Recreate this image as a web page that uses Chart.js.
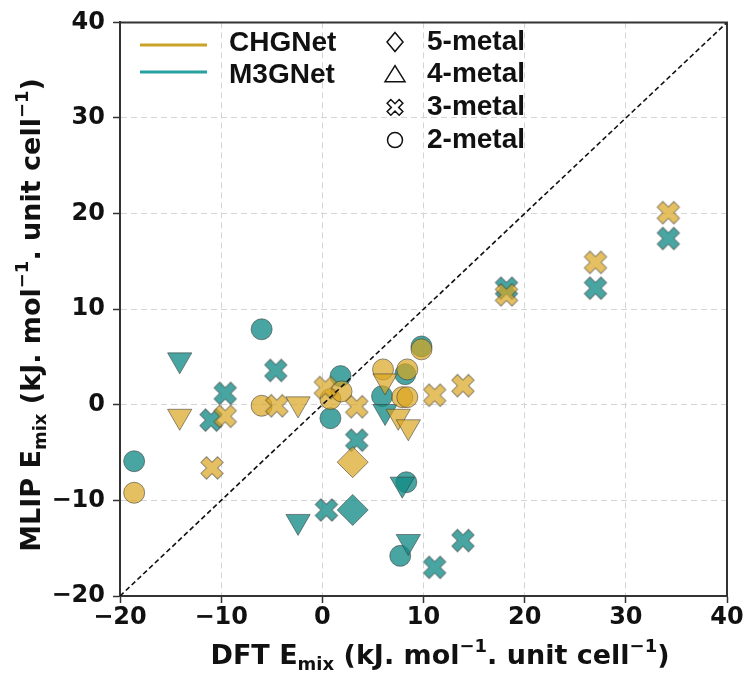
<!DOCTYPE html>
<html>
<head>
    <title>MLIP vs DFT mixing energy</title>
    <script src="https://cdn.jsdelivr.net/npm/chart.js"></script>
    <style>
        html, body { margin: 0; padding: 0; background: #fff; }
    </style>
</head>
<body>
    <canvas id="parityChart" width="750" height="677"></canvas>

    <script>
        // values (kJ/mol per unit cell)
        const axisTicks = [-20, -10, 0, 10, 20, 30, 40];

        // CHGNet
        const chgTwoDft   = [-18.6, -6.0, 0.8, 1.9, 6.0, 8.4, 7.9, 8.4, 9.8];
        const chgTwoMlip  = [-9.2, -0.1, 0.6, 1.4, 3.7, 3.7, 0.8, 0.8, 5.8];
        const chgThreeDft  = [-9.6, -10.9, -4.5, 0.3, 3.4, 11.1, 13.9, 18.2, 27.0, 34.2];
        const chgThreeMlip = [-1.2, -6.6, -0.1, 1.8, -0.2, 1.0, 2.0, 11.5, 14.9, 20.1];
        const chgFourDft  = [-14.1, -2.4, 6.2, 7.5, 8.5];
        const chgFourMlip = [-1.2, 0.1, 2.5, -1.2, -2.3];
        const chgFiveDft  = [3.0];
        const chgFiveMlip = [-6.0];

        // M3GNet
        const m3gTwoDft   = [-18.6, -6.0, 1.8, 0.8, 9.8, 8.2, 5.9, 8.3, 7.7];
        const m3gTwoMlip  = [-5.9, 7.9, 3.0, -1.4, 6.1, 3.2, 0.9, -8.1, -15.8];
        const m3gThreeDft  = [-9.6, -11.0, -4.6, 3.4, 0.4, 11.1, 13.9, 18.2, 27.0, 34.2];
        const m3gThreeMlip = [1.2, -1.6, 3.6, -3.7, -11.0, -17.0, -14.2, 12.2, 12.2, 17.4];
        const m3gFourDft  = [-14.1, -2.4, 6.2, 7.9, 8.5];
        const m3gFourMlip = [4.7, -12.2, -0.7, -8.3, -14.3];
        const m3gFiveDft  = [3.0];
        const m3gFiveMlip = [-11.0];

        const GOLD_FILL = 'rgba(218,165,32,0.7)';
        const TEAL_FILL = 'rgba(20,140,135,0.78)';
        const EDGE = 'rgba(55,55,55,0.55)';
        const GOLD_LINE = '#c9a227';
        const TEAL_LINE = '#27a0a0';

        function toPoints(xs, ys) {
            return xs.map((x, i) => ({ x: x, y: ys[i] }));
        }

        // filled "X" marker like matplotlib's 'X'
        function crossMark(fill) {
            const size = 28;
            const c = document.createElement('canvas');
            c.width = c.height = size;
            const g = c.getContext('2d');
            const L = 11.8, t = 4.0;
            g.translate(size / 2, size / 2);
            g.rotate(Math.PI / 4);
            g.beginPath();
            g.moveTo(-t, -L); g.lineTo(t, -L); g.lineTo(t, -t); g.lineTo(L, -t);
            g.lineTo(L, t); g.lineTo(t, t); g.lineTo(t, L); g.lineTo(-t, L);
            g.lineTo(-t, t); g.lineTo(-L, t); g.lineTo(-L, -t); g.lineTo(-t, -t);
            g.closePath();
            g.fillStyle = fill;
            g.fill();
            g.strokeStyle = EDGE;
            g.lineWidth = 1;
            g.stroke();
            return c;
        }

        function fmtTick(v) {
            return v < 0 ? '\u2212' + Math.abs(v) : String(v);
        }

        function markerSet(label, xs, ys, fill, shape) {
            const ds = {
                type: 'scatter',
                label: label,
                data: toPoints(xs, ys),
                backgroundColor: fill,
                borderColor: EDGE,
                borderWidth: 1
            };
            if (shape === 'circle') { ds.pointStyle = 'circle'; ds.pointRadius = 10.5; }
            if (shape === 'down') { ds.pointStyle = 'triangle'; ds.pointRotation = 180; ds.pointRadius = 14; }
            if (shape === 'diamond') { ds.pointStyle = 'rectRot'; ds.pointRadius = 15.5; }
            if (shape === 'cross') { ds.pointStyle = crossMark(fill); ds.pointRadius = 11; }
            return ds;
        }

        // text with sub/superscripts, drawn centred at (cx, cy)
        function drawRich(ctx, parts, cx, cy, size, rotate) {
            const fam = '"DejaVu Sans", sans-serif';
            const small = Math.round(size * 0.68);
            let total = 0;
            parts.forEach(p => {
                ctx.font = 'bold ' + (p.sub || p.sup ? small : size) + 'px ' + fam;
                p.w = ctx.measureText(p.t).width;
                total += p.w;
            });
            ctx.save();
            ctx.translate(cx, cy);
            if (rotate) ctx.rotate(-Math.PI / 2);
            ctx.fillStyle = '#111';
            ctx.textBaseline = 'alphabetic';
            let x = -total / 2;
            const base = size * 0.36;
            parts.forEach(p => {
                ctx.font = 'bold ' + (p.sub || p.sup ? small : size) + 'px ' + fam;
                let y = base;
                if (p.sub) y = base + size * 0.25;
                if (p.sup) y = base - size * 0.42;
                ctx.fillText(p.t, x, y);
                x += p.w;
            });
            ctx.restore();
        }

        const titleParts = (lead) => [
            { t: lead + ' E' }, { t: 'mix', sub: true }, { t: ' (kJ. mol' }, { t: '\u22121', sup: true },
            { t: '. unit cell' }, { t: '\u22121', sup: true }, { t: ')' }
        ];

        const modelKeys = [
            { name: 'CHGNet', color: GOLD_LINE, lineY: 45, textY: 43 },
            { name: 'M3GNet', color: TEAL_LINE, lineY: 72, textY: 75 }
        ];
        const shapeKeys = ['5-metal', '4-metal', '3-metal', '2-metal'];

        const decorPlugin = {
            id: 'decor',
            afterDraw(chart) {
                const ctx = chart.ctx;
                const a = chart.chartArea;

                // top and right spines
                ctx.save();
                ctx.strokeStyle = '#333';
                ctx.lineWidth = 2;
                ctx.beginPath();
                ctx.moveTo(a.left, a.top);
                ctx.lineTo(a.right, a.top);
                ctx.lineTo(a.right, a.bottom);
                ctx.stroke();
                ctx.restore();

                drawRich(ctx, titleParts('DFT'), 440, 654, 27, false);
                drawRich(ctx, titleParts('MLIP'), 30, 315, 27, true);

                // legend: models
                ctx.save();
                ctx.font = 'bold 28px "Liberation Sans", Arial, sans-serif';
                ctx.textBaseline = 'middle';
                ctx.fillStyle = '#111';
                modelKeys.forEach(m => {
                    ctx.strokeStyle = m.color;
                    ctx.lineWidth = 3;
                    ctx.beginPath();
                    ctx.moveTo(140, m.lineY);
                    ctx.lineTo(207, m.lineY);
                    ctx.stroke();
                    ctx.fillText(m.name, 229, m.textY);
                });

                // legend: metal count shapes
                shapeKeys.forEach((s, i) => {
                    const y = 42 + i * 32.7;
                    const x = 395;
                    ctx.strokeStyle = '#111';
                    ctx.lineWidth = 1.5;
                    ctx.fillStyle = '#fff';
                    ctx.beginPath();
                    if (i === 0) {
                        ctx.moveTo(x, y - 9.5); ctx.lineTo(x + 8, y); ctx.lineTo(x, y + 9.5); ctx.lineTo(x - 8, y);
                        ctx.closePath();
                    } else if (i === 1) {
                        ctx.moveTo(x, y - 9); ctx.lineTo(x + 10, y + 7); ctx.lineTo(x - 10, y + 7);
                        ctx.closePath();
                    } else if (i === 2) {
                        const L = 8.5, t = 2.6;
                        const pts = [[-t, -L], [t, -L], [t, -t], [L, -t], [L, t], [t, t], [t, L], [-t, L], [-t, t], [-L, t], [-L, -t], [-t, -t]];
                        const c = Math.SQRT1_2;
                        pts.forEach((p, k) => {
                            const px = x + (p[0] - p[1]) * c, py = y + (p[0] + p[1]) * c;
                            if (k === 0) ctx.moveTo(px, py); else ctx.lineTo(px, py);
                        });
                        ctx.closePath();
                    } else {
                        ctx.arc(x, y, 7.5, 0, Math.PI * 2);
                    }
                    ctx.fill();
                    ctx.stroke();
                    ctx.fillStyle = '#111';
                    ctx.fillText(s, 427, y);
                });
                ctx.restore();
            }
        };

        const datasets = [
            {
                type: 'line',
                label: 'parity',
                data: [{ x: -20, y: -20 }, { x: 40, y: 40 }],
                borderColor: '#111',
                borderWidth: 1.6,
                borderDash: [5, 3],
                pointRadius: 0,
                fill: false
            },
            markerSet('CHGNet 5-metal', chgFiveDft, chgFiveMlip, GOLD_FILL, 'diamond'),
            markerSet('CHGNet 4-metal', chgFourDft, chgFourMlip, GOLD_FILL, 'down'),
            markerSet('CHGNet 3-metal', chgThreeDft, chgThreeMlip, GOLD_FILL, 'cross'),
            markerSet('CHGNet 2-metal', chgTwoDft, chgTwoMlip, GOLD_FILL, 'circle'),
            markerSet('M3GNet 5-metal', m3gFiveDft, m3gFiveMlip, TEAL_FILL, 'diamond'),
            markerSet('M3GNet 4-metal', m3gFourDft, m3gFourMlip, TEAL_FILL, 'down'),
            markerSet('M3GNet 3-metal', m3gThreeDft, m3gThreeMlip, TEAL_FILL, 'cross'),
            markerSet('M3GNet 2-metal', m3gTwoDft, m3gTwoMlip, TEAL_FILL, 'circle')
        ];

        const tickFont = { family: '"DejaVu Sans", sans-serif', weight: 'bold', size: 24 };

        new Chart(document.getElementById('parityChart').getContext('2d'), {
            type: 'scatter',
            data: { datasets: datasets },
            options: {
                responsive: false,
                devicePixelRatio: 1,
                animation: false,
                layout: { padding: { left: 0, top: 11, right: 23, bottom: 0 } },
                plugins: { legend: { display: false }, tooltip: { enabled: false } },
                scales: {
                    x: {
                        type: 'linear',
                        min: axisTicks[0],
                        max: axisTicks[axisTicks.length - 1],
                        afterBuildTicks: s => { s.ticks = axisTicks.map(v => ({ value: v })); },
                        ticks: { color: '#111', font: tickFont, padding: 0, maxRotation: 0, callback: fmtTick },
                        grid: { color: '#d4d4d4', lineWidth: 1, tickColor: '#333', tickLength: 7, tickWidth: 1.5 },
                        border: { display: true, color: '#333', width: 2, dash: [6, 4] },
                        afterFit: s => { s.height = 81; }
                    },
                    y: {
                        type: 'linear',
                        min: axisTicks[0],
                        max: axisTicks[axisTicks.length - 1],
                        afterBuildTicks: s => { s.ticks = axisTicks.map(v => ({ value: v })); },
                        ticks: { color: '#111', font: tickFont, padding: 8, callback: fmtTick },
                        grid: { color: '#d4d4d4', lineWidth: 1, tickColor: '#333', tickLength: 7, tickWidth: 1.5 },
                        border: { display: true, color: '#333', width: 2, dash: [6, 4] },
                        afterFit: s => { s.width = 120; }
                    }
                }
            },
            plugins: [decorPlugin]
        });
    </script>
</body>
</html>
